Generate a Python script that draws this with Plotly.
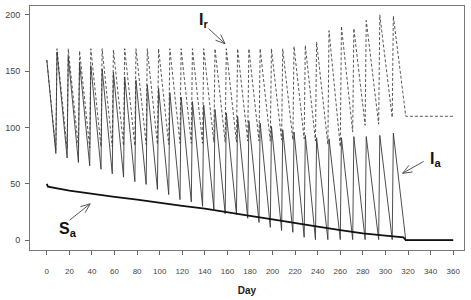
import plotly.graph_objects as go
import math

# ---------------- data ----------------
start_day = 0
Ia_start = 160
Ir_start = 160
end_day = 360

trough_days = [8, 18, 28, 38, 48, 58, 68, 78, 88, 98, 108, 118, 128, 138, 148, 158,
               168, 178, 188, 198, 208, 218, 228, 238, 249, 260, 271, 282, 294, 306, 318]
peak_days = [9, 19, 29, 39, 49, 59, 69, 79, 89, 99, 109, 119, 129, 139, 149, 159,
             169, 179, 189, 199, 209, 219, 229, 239, 250, 261, 272, 283, 295, 307]

Ia_trough = [77, 73, 69, 66, 63, 59, 56, 52, 49.5, 45, 40.5, 36, 34, 30, 27.5, 23.5,
             23, 19.5, 15.7, 11.4, 8.5, 7, 2.6, 0.5, 0.5, 0.5, 0.5, 0.5, 0.5, 0.5, 0]
Ia_peak = [167, 163, 158, 155, 152, 149, 145, 142, 138, 135, 131, 127, 123, 120, 116, 113,
           110, 106, 104, 101, 98, 96, 93, 91, 90, 91, 92, 92, 93, 95]
Ia_end = 0

Ir_trough = [80, 81, 82, 82, 83, 83, 84, 84, 85, 85, 85, 86, 86, 86, 87, 87,
             87, 88, 88, 88, 89, 89, 90, 88, 85, 83, 96, 102, 103, 109, 110]
Ir_peak = [170, 170, 168, 170, 170, 169, 170, 170, 170, 170, 170, 170, 170, 170, 170, 170,
           170, 170, 170, 170, 170, 172, 173, 176, 186, 190, 188, 195, 200, 199]
Ir_end = 110

Sa_days = [0, 1, 20, 40, 60, 80, 100, 120, 140, 160, 180, 200, 220, 240, 260, 280, 300, 316, 318, 360]
Sa_vals = [50, 47.5, 44, 41, 38.5, 36, 33, 30.5, 28, 24.5, 21.5, 18.5, 15, 12, 9, 6, 4, 2.5, 0, 0]

x_ticks = list(range(0, 361, 20))
y_ticks = [0, 50, 100, 150, 200]

# label / arrow positions (data units)
labels = [
    ("<b>I<sub>r</sub></b>", 138.5, 195.0),
    ("<b>I<sub>a</sub></b>", 344.0, 72.0),
    ("<b>S<sub>a</sub></b>", 18.5, 9.5),
]
arrows = [  # (tail_x, tail_y, tip_x, tip_y)
    (143.3, 187.8, 157.9, 174.4),
    (333.8, 69.9, 315.2, 59.4),
    (20.1, 17.7, 38.4, 32.3),
]


def sawtooth(start_v, troughs, peaks, end_v):
    xs = [start_day]
    ys = [start_v]
    for i, td in enumerate(trough_days):
        xs.append(td)
        ys.append(troughs[i])
        if i < len(peak_days):
            xs.append(peak_days[i])
            ys.append(peaks[i])
    xs.append(end_day)
    ys.append(end_v)
    return xs, ys


ia_x, ia_y = sawtooth(Ia_start, Ia_trough, Ia_peak, Ia_end)
ir_x, ir_y = sawtooth(Ir_start, Ir_trough, Ir_peak, Ir_end)

fig = go.Figure()
fig.add_trace(go.Scatter(x=ir_x, y=ir_y, mode="lines",
                         line=dict(color="#444444", width=0.9, dash="3px,2px"),
                         hoverinfo="skip"))
fig.add_trace(go.Scatter(x=ia_x, y=ia_y, mode="lines",
                         line=dict(color="#3a3a3a", width=0.9),
                         hoverinfo="skip"))
fig.add_trace(go.Scatter(x=Sa_days, y=Sa_vals, mode="lines",
                         line=dict(color="#111111", width=1.8),
                         hoverinfo="skip"))

# arrows with open heads (x and y have ~equal pixel scale)
for tx, ty, hx, hy in arrows:
    ang = math.atan2(ty - hy, tx - hx)
    L = 9
    spread = math.radians(22)
    b1 = (hx + L * math.cos(ang + spread), hy + L * math.sin(ang + spread))
    b2 = (hx + L * math.cos(ang - spread), hy + L * math.sin(ang - spread))
    fig.add_trace(go.Scatter(x=[tx, hx, None, b1[0], hx, b2[0]],
                             y=[ty, hy, None, b1[1], hy, b2[1]],
                             mode="lines", line=dict(color="#444444", width=0.9),
                             hoverinfo="skip"))

for txt, x, y in labels:
    fig.add_annotation(x=x, y=y, text=txt, showarrow=False,
                       font=dict(family="Liberation Sans, Arial, sans-serif", size=16, color="#111111"))

fig.update_layout(
    width=471, height=300,
    margin=dict(l=24, r=7, t=5, b=47),
    paper_bgcolor="white", plot_bgcolor="white",
    showlegend=False,
    font=dict(family="Liberation Sans, Arial, sans-serif", color="#333333"),
)
fig.update_xaxes(range=[-14.9, 369.6], tickvals=x_ticks, ticks="outside", ticklen=4,
                 tickcolor="#666666", showline=True, linecolor="#777777", linewidth=1,
                 mirror=True, showgrid=False, zeroline=False,
                 tickfont=dict(size=8, color="#444444"), ticklabelstandoff=9,
                 title=dict(text="<b>Day</b>", font=dict(size=10, color="#222222"), standoff=12))
fig.update_yaxes(range=[-8.7, 207.9], tickvals=y_ticks, ticks="outside", ticklen=4,
                 tickcolor="#666666", showline=True, linecolor="#777777", linewidth=1,
                 mirror=True, showgrid=False, zeroline=False,
                 tickfont=dict(size=9, color="#444444"), ticklabelstandoff=3)

fig.write_html("out.html")
